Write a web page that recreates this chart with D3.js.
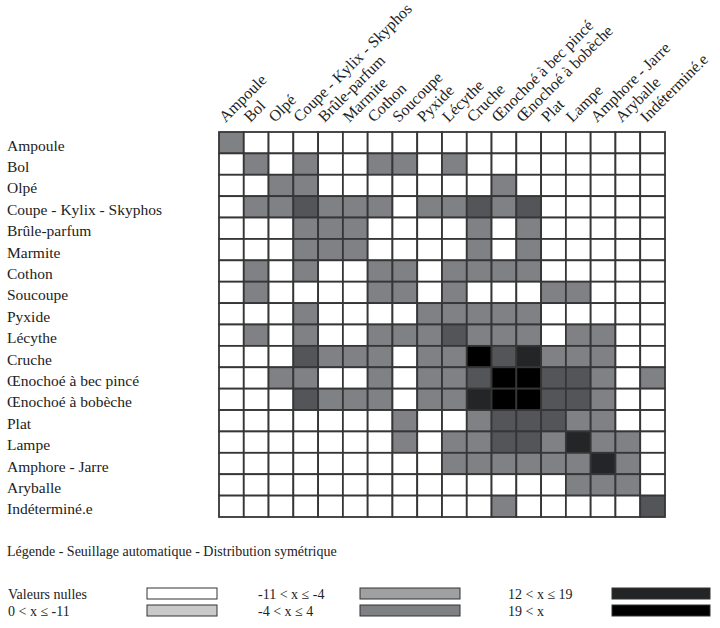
<!DOCTYPE html>
<html><head><meta charset="utf-8">
<script src="https://cdn.jsdelivr.net/npm/d3@7/dist/d3.min.js"></script>
<style>body{margin:0;background:#fff}svg{display:block}text{font-family:"Liberation Serif",serif;fill:#222}</style>
</head><body><svg id="c" width="720" height="628"></svg>
<script>
const categories = ["Ampoule","Bol","Olpé","Coupe - Kylix - Skyphos","Brûle-parfum","Marmite","Cothon","Soucoupe","Pyxide","Lécythe","Cruche","Œnochoé à bec pincé","Œnochoé à bobèche","Plat","Lampe","Amphore - Jarre","Aryballe","Indéterminé.e"];
// class of each cell: 0 = null, 1 = -4<x≤4, 2 = 4<x≤12, 3 = 12<x≤19, 4 = 19<x
const matrix = [
[1,0,0,0,0,0,0,0,0,0,0,0,0,0,0,0,0,0],
[0,1,0,1,0,0,1,1,0,1,0,0,0,0,0,0,0,0],
[0,0,1,1,0,0,0,0,0,0,0,1,0,0,0,0,0,0],
[0,1,1,2,1,1,1,0,1,1,2,1,2,0,0,0,0,0],
[0,0,0,1,1,1,0,0,0,0,1,0,1,0,0,0,0,0],
[0,0,0,1,1,1,0,0,0,0,1,0,1,0,0,0,0,0],
[0,1,0,1,0,0,1,1,0,1,1,1,1,0,0,0,0,0],
[0,1,0,0,0,0,1,1,0,1,0,0,0,1,1,0,0,0],
[0,0,0,1,0,0,0,0,1,1,1,1,1,0,0,0,0,0],
[0,1,0,1,0,0,1,1,1,2,1,1,1,0,1,1,0,0],
[0,0,0,2,1,1,1,0,1,1,4,2,3,1,1,1,0,0],
[0,0,1,1,0,0,1,0,1,1,2,4,4,2,2,1,0,1],
[0,0,0,2,1,1,1,0,1,1,3,4,4,2,2,1,0,0],
[0,0,0,0,0,0,0,1,0,0,1,2,2,2,1,1,0,0],
[0,0,0,0,0,0,0,1,0,1,1,2,2,1,3,1,1,0],
[0,0,0,0,0,0,0,0,0,1,1,1,1,1,1,3,1,0],
[0,0,0,0,0,0,0,0,0,0,0,0,0,0,1,1,1,0],
[0,0,0,0,0,0,0,0,0,0,0,1,0,0,0,0,0,2]
];
const cellColors = ["#ffffff","#808185","#545559","#242527","#000000"];
const legendTitle = "Légende - Seuillage automatique - Distribution symétrique";
const legendLabels = ["Valeurs nulles","0 < x ≤ -11","-11 < x ≤ -4","-4 < x ≤ 4","12 < x ≤ 19","19 < x"];
const legendColors = ["#ffffff","#c8c9c8","#9fa0a2","#7f8083","#232426","#000000"];

const svg = d3.select("#c");
const x = d3.scaleBand().domain(d3.range(categories.length)).range([219,665]);
const y = d3.scaleBand().domain(d3.range(categories.length)).range([132,517]);

const cells = [];
matrix.forEach((row,i)=>row.forEach((v,j)=>cells.push({i,j,v})));
svg.append("g").selectAll("rect").data(cells).join("rect")
  .attr("x",d=>x(d.j)).attr("y",d=>y(d.i))
  .attr("width",x.bandwidth()).attr("height",y.bandwidth())
  .attr("fill",d=>cellColors[d.v])
  .attr("stroke","#363636").attr("stroke-width",1.8);

// row labels
svg.append("g").selectAll("text").data(categories).join("text")
  .attr("x",7).attr("y",(d,i)=>y(i)+y.bandwidth()/2+8)
  .style("font-size","15.5px").text(d=>d);

// column labels
svg.append("g").selectAll("text").data(categories).join("text")
  .attr("transform",(d,i)=>`translate(${x(i)+x.bandwidth()/2-6},${123}) rotate(-45)`)
  .style("font-size","16px").text(d=>d);

// legend
svg.append("text").attr("x",7).attr("y",556).style("font-size","14px").text(legendTitle);
const lx = [8,258,508], sx = [147,360,612], ly = [594,611];
legendLabels.forEach((t,k)=>{
  const c = Math.floor(k/2), r = k%2;
  svg.append("text").attr("x",lx[c]).attr("y",ly[r]+4.5).style("font-size","14px").text(t);
  svg.append("rect").attr("x",sx[c]).attr("y",ly[r]-6).attr("width",c===0?70:c===1?100:98).attr("height",11)
    .attr("fill",legendColors[k]).attr("stroke","#333").attr("stroke-width",1);
});
</script></body></html>
